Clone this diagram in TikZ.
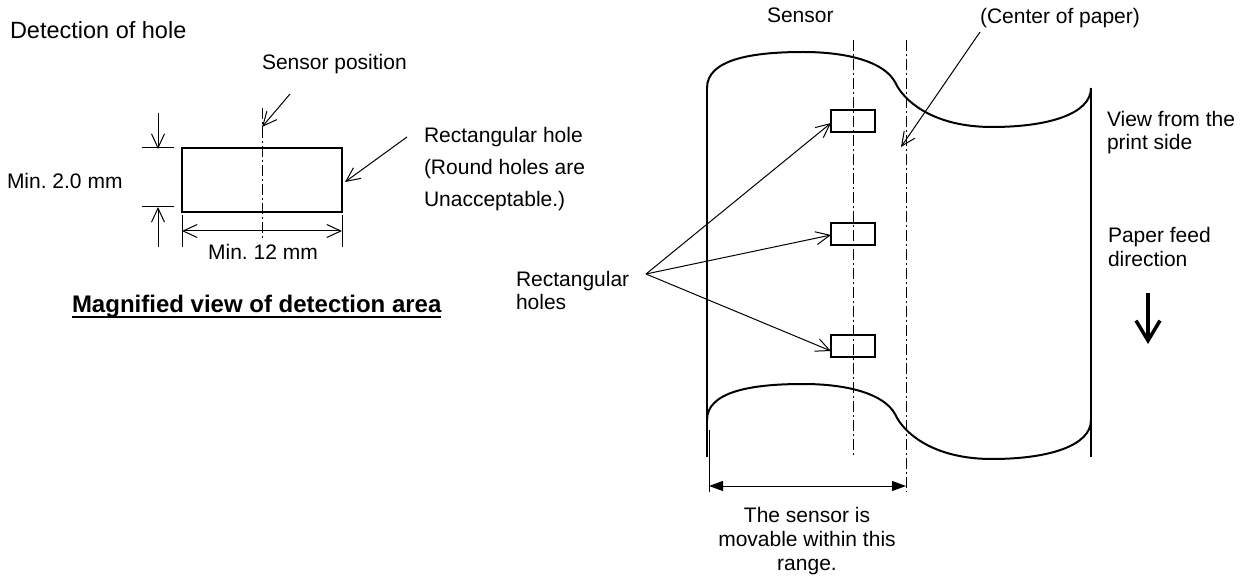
\documentclass[tikz,border=0pt]{standalone}
\usepackage{fontspec}
\setmainfont{Liberation Sans}
\usetikzlibrary{arrows.meta}
\frenchspacing
\begin{document}
\begin{tikzpicture}[x=1pt,y=-1pt,
  txt/.style={inner sep=0pt, outer sep=0pt, font=\fontsize{21}{24}\selectfont},
  thinln/.style={line width=1pt},
  paperln/.style={line width=2pt},
  dashdot/.style={line width=1pt, dash pattern=on 11pt off 3pt on 2pt off 3pt},
  barb/.style={-{Straight Barb[length=14pt,width=13pt]}},
  dbarb/.style={{Straight Barb[length=14pt,width=13pt]}-{Straight Barb[length=14pt,width=13pt]}},
  holebox/.style={draw, line width=2pt, minimum width=44pt, minimum height=22pt, inner sep=0pt, outer sep=0pt},
  bigrect/.style={draw, line width=2pt, minimum width=160pt, minimum height=64pt, inner sep=0pt, outer sep=0pt},
]
\fill[white] (0,0) rectangle (1248,577);
\useasboundingbox (0,0) rectangle (1248,577);

% ---------------- left: magnified view ----------------
\node[txt, font=\fontsize{23.5}{27}\selectfont, anchor=base west] (title) at (10,39) {Detection of hole};
\node[txt, anchor=base west] (senspos) at (262,70) {Sensor position};
\node[bigrect] (hole) at (262,180) {};

\coordinate (sl1) at (262,108);
\coordinate (sl2) at (262,240);
\draw[dashdot] (sl1) -- (sl2);

\coordinate (sa1) at (290,94);
\coordinate (sa2) at (262,127);
\draw[thinln, barb] (sa1) -- (sa2);

% vertical dimension
\coordinate (ve1) at (142,148); \coordinate (ve2) at (174,148);
\coordinate (ve3) at (142,207); \coordinate (ve4) at (174,207);
\draw[thinln] (ve1) -- (ve2);
\draw[thinln] (ve3) -- (ve4);
\coordinate (vd0) at (158,113); \coordinate (vd1) at (158,149);
\coordinate (vd2) at (158,207); \coordinate (vd3) at (158,247);
\draw[thinln, barb] (vd0) -- (vd1);
\draw[thinln, barb] (vd3) -- (vd2);
\node[txt, anchor=base west] (min20) at (7,189) {Min. 2.0 mm};

% horizontal dimension
\coordinate (he1) at (182,215); \coordinate (he2) at (182,247);
\coordinate (he3) at (342,215); \coordinate (he4) at (342,247);
\draw[thinln] (he1) -- (he2);
\draw[thinln] (he3) -- (he4);
\coordinate (hd1) at (182,231); \coordinate (hd2) at (342,231);
\draw[thinln, dbarb] (hd1) -- (hd2);
\node[txt, anchor=base] (min12) at (263,260) {Min. 12 mm};

% rectangular hole label
\node[txt, anchor=base west] (rh1) at (424,143) {Rectangular hole};
\node[txt, anchor=base west] (rh2) at (424,175) {(Round holes are};
\node[txt, anchor=base west] (rh3) at (424,207) {Unacceptable.)};
\coordinate (ra1) at (407,137);
\coordinate (ra2) at (345,182);
\draw[thinln, barb] (ra1) -- (ra2);

\node[txt, font=\fontsize{24}{28}\selectfont\bfseries, anchor=base west] (mag) at (72,313) {Magnified view of detection area};
\draw[line width=2pt] ([yshift=-4pt]mag.base west) -- ([yshift=-4pt]mag.base east);

% ---------------- right: paper ----------------
\node[txt, anchor=base west] (sensor) at (767,23) {Sensor};
\node[txt, anchor=base west] (center) at (980,24) {(Center of paper)};

\coordinate (pl1) at (707,88); \coordinate (pl2) at (707,457);
\coordinate (pr1) at (1091,88); \coordinate (pr2) at (1091,457);
\draw[paperln] (pl1) -- (pl2);
\draw[paperln] (pr1) -- (pr2);
\draw[paperln] (707,88) .. controls (707,60) and (750,52) .. (803,52)
  .. controls (848,52) and (884,62) .. (895,82)
  .. controls (903,100) and (932,127) .. (992,127)
  .. controls (1048,127) and (1091,114) .. (1091,88);
\begin{scope}[shift={(0,332)}]
\draw[paperln] (707,88) .. controls (707,60) and (750,52) .. (803,52)
  .. controls (848,52) and (884,62) .. (895,82)
  .. controls (903,100) and (932,127) .. (992,127)
  .. controls (1048,127) and (1091,114) .. (1091,88);
\end{scope}

\coordinate (c1a) at (853,40); \coordinate (c1b) at (853,455);
\coordinate (c2a) at (906,40); \coordinate (c2b) at (906,492);
\draw[dashdot] (c1a) -- (c1b);
\draw[dashdot] (c2a) -- (c2b);

\node[holebox] (h1) at (853,121) {};
\node[holebox] (h2) at (853,234) {};
\node[holebox] (h3) at (853,346) {};

\node[txt, anchor=base west] (rhs1) at (516,287) {Rectangular};
\node[txt, anchor=base west] (rhs2) at (516,310) {holes};
\coordinate (ro) at (646,274);
\draw[thinln, barb] (ro) -- ([yshift=-2pt]h1.west);
\draw[thinln, barb] (ro) -- ([yshift=-1pt]h2.west);
\draw[thinln, barb] (ro) -- ([yshift=-5pt]h3.west);

\coordinate (ca1) at (980,32);
\coordinate (ca2) at (901,147);
\draw[thinln, barb] (ca1) -- (ca2);

\node[txt, anchor=base west] (vf1) at (1107,127) {View from the};
\node[txt, anchor=base west] (vf2) at (1107,150) {print side};
\node[txt, anchor=base west] (pf1) at (1108,243) {Paper feed};
\node[txt, anchor=base west] (pf2) at (1108,267) {direction};
\coordinate (fa1) at (1148,293);
\coordinate (fa2) at (1148,344);
\draw[line width=3.5pt, -{Straight Barb[length=20pt,width=24pt]}] (fa1) -- (fa2);

% range dimension
\coordinate (re1) at (709,430); \coordinate (re2) at (709,492);
\draw[thinln] (re1) -- (re2);
\coordinate (rd1) at (709,486); \coordinate (rd2) at (906,486);
\draw[thinln, {Triangle[length=14pt,width=10pt]}-{Triangle[length=14pt,width=10pt]}] (rd1) -- (rd2);
\node[txt, anchor=base] (rt1) at (807,522) {The sensor is};
\node[txt, anchor=base] (rt2) at (807,546) {movable within this};
\node[txt, anchor=base] (rt3) at (807,570) {range.};
\end{tikzpicture}
\end{document}
